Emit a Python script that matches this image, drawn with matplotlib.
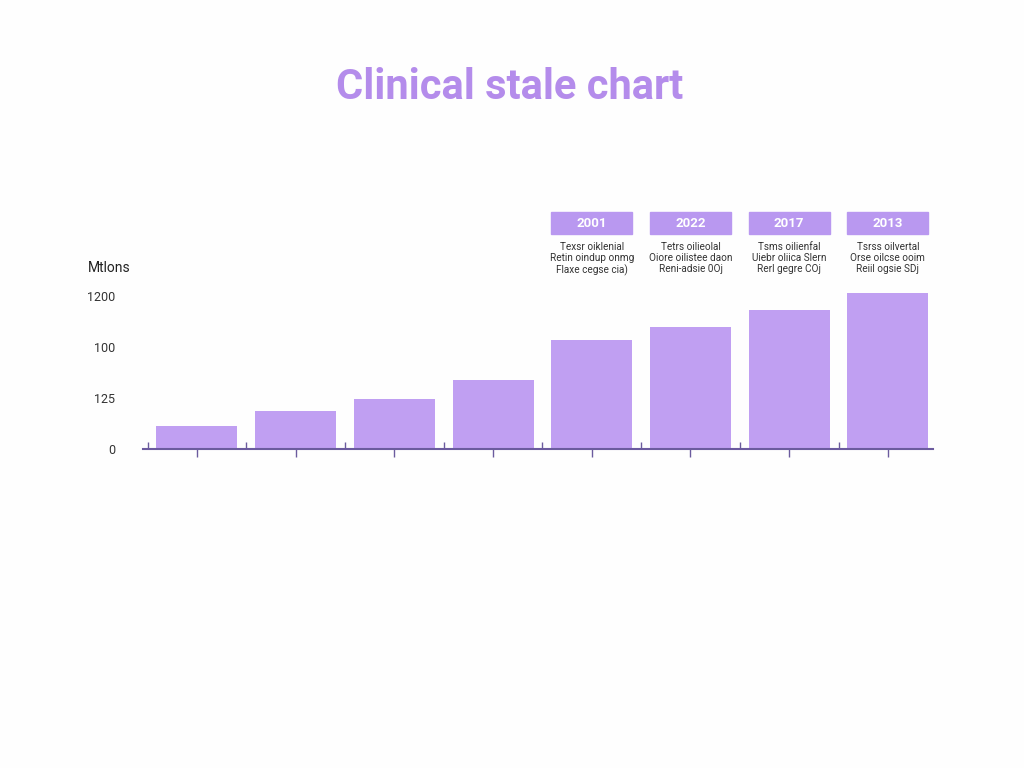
import matplotlib.pyplot as plt
import matplotlib.transforms as mtransforms
from matplotlib.patches import Rectangle
import numpy as np

# values (axis units: 400 per tick step)
bar_values = [178, 296, 390, 539, 858, 957, 1093, 1224]
tick_values = [0, 400, 800, 1200]
tick_labels = ['0', '125', '100', '1200']

# header boxes over the last four bars
header_years = ['2001', '2022', '2017', '2013']
header_notes = [
    'Texsr oiklenial\nRetin oindup onmg\nFlaxe cegse cia)',
    'Tetrs oilieolal\nOiore oilistee daon\nReni-adsie 0Oj',
    'Tsms oilienfal\nUiebr oliica Slern\nRerl gegre COj',
    'Tsrss oilvertal\nOrse oilcse ooim\nReiil ogsie SDj',
]

bar_color = '#c09ff2'
box_color = '#b998f0'
axis_color = '#6b5b9e'

plt.rcParams['font.family'] = ['Roboto', 'DejaVu Sans']

fig = plt.figure(figsize=(10.24, 7.68), dpi=100)
fig.patch.set_facecolor('#fefefe')
ax = fig.add_axes([0.1396, 0.4154, 0.7715, 0.207])
ax.set_facecolor('none')

x = np.arange(len(bar_values))
width = 0.82
ax.bar(x, bar_values, width, color=bar_color, zorder=2)

ax.set_xlim(-0.547, 7.457)
ax.set_ylim(0, 1247)

for s in ['top', 'right', 'left']:
    ax.spines[s].set_visible(False)
ax.spines['bottom'].set_color(axis_color)
ax.spines['bottom'].set_linewidth(1.5)

ax.set_xticks(x)
ax.set_xticklabels([])
ax.set_xticks(x - 0.5, minor=True)
ax.tick_params(axis='x', which='major', direction='out', length=6, color=axis_color, width=1)
ax.tick_params(axis='x', which='minor', direction='in', length=5, color=axis_color, width=1)

ax.set_yticks(tick_values)
ax.set_yticklabels(tick_labels, fontsize=9, color='#333333')
ax.tick_params(axis='y', length=0, pad=20)
ax.text(-0.07, 1.138, 'Mtlons', transform=ax.transAxes, fontsize=10, color='#222222',
        ha='left', va='center')

# header boxes with notes, above bars 5-8
trans = mtransforms.blended_transform_factory(ax.transData, ax.transAxes)
for i, (year, note) in enumerate(zip(header_years, header_notes)):
    xi = x[4 + i]
    ax.add_patch(Rectangle((xi - width / 2, 1.352), width, 0.139, transform=trans,
                           color=box_color, clip_on=False, zorder=3))
    ax.text(xi, 1.421, year, transform=trans, ha='center', va='center',
            color='white', fontsize=9.5, fontweight='bold', zorder=4)
    ax.text(xi, 1.30, note, transform=trans, ha='center', va='top',
            color='#333333', fontsize=7.2, linespacing=1.1)

fig.text(0.498, 0.886, 'Clinical stale chart', ha='center', va='center',
         fontsize=30, fontweight='bold', color='#b48ceb')

fig.savefig('out.png', dpi=100, facecolor=fig.get_facecolor())
